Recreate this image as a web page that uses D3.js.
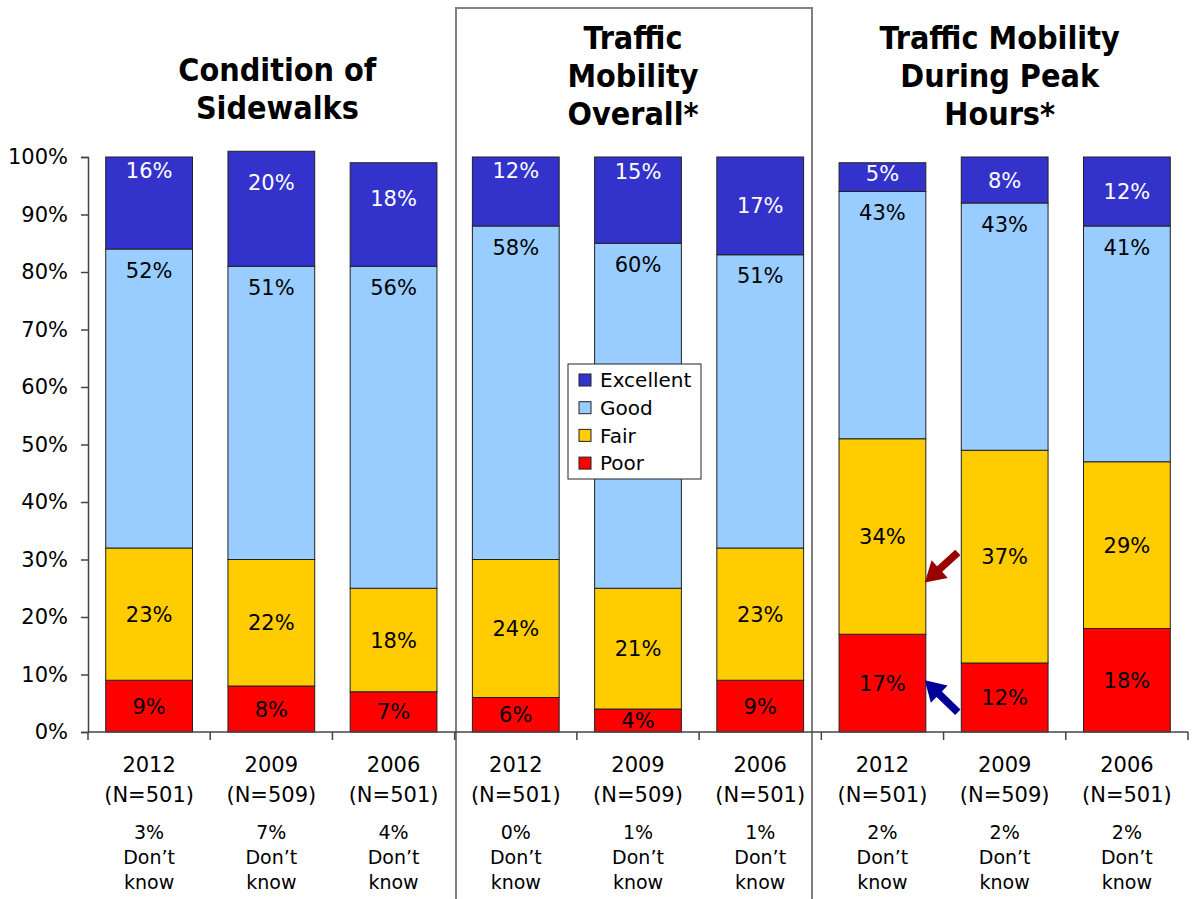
<!DOCTYPE html>
<html>
<head>
<meta charset="utf-8">
<script src="https://cdn.jsdelivr.net/npm/d3@7"></script>
<style>
  html, body { margin: 0; padding: 0; background: #fff; }
  svg { display: block; font-family: "DejaVu Sans", Verdana, sans-serif; }
</style>
</head>
<body>
<svg id="chart" width="1192" height="899"></svg>
<script>
// survey data, one entry per bar
const years = ["2012", "2009", "2006", "2012", "2009", "2006", "2012", "2009", "2006"];
const sampleN = ["501", "509", "501", "501", "509", "501", "501", "509", "501"];
const dontKnow = [3, 7, 4, 0, 1, 1, 2, 2, 2];
const poor = [9, 8, 7, 6, 4, 9, 17, 12, 18];
const fair = [23, 22, 18, 24, 21, 23, 34, 37, 29];
const good = [52, 51, 56, 58, 60, 51, 43, 43, 41];
const excellent = [16, 20, 18, 12, 15, 17, 5, 8, 12];
const panelTitles = [
  ["Condition of", "Sidewalks"],
  ["Traffic", "Mobility", "Overall*"],
  ["Traffic Mobility", "During Peak", "Hours*"]
];
const seriesNames = ["Poor", "Fair", "Good", "Excellent"];
const yTicks = [0, 10, 20, 30, 40, 50, 60, 70, 80, 90, 100];

const colors = { Poor: "#ff0000", Fair: "#ffcc00", Good: "#99ccff", Excellent: "#3333cc" };

const svg = d3.select("#chart");
const margin = { left: 88, right: 4, top: 157, bottom: 167 };
const W = 1192, H = 899;

const x = d3.scaleBand().domain(d3.range(9)).range([margin.left, W - margin.right]).paddingInner(0.29).paddingOuter(0.145);
const y = d3.scaleLinear().domain([0, 100]).range([H - margin.bottom, margin.top]);

// stack the four series
const rows = d3.range(9).map(i => ({ i, Poor: poor[i], Fair: fair[i], Good: good[i], Excellent: excellent[i] }));
const stacked = d3.stack().keys(seriesNames)(rows);

// panel frame around the middle group
svg.append("rect")
  .attr("x", 456).attr("y", 8)
  .attr("width", 356).attr("height", 905)
  .attr("fill", "none").attr("stroke", "#808080").attr("stroke-width", 2);

// bars
const layer = svg.append("g").selectAll("g").data(stacked).join("g")
  .attr("fill", d => colors[d.key]);
layer.selectAll("rect").data(d => d).join("rect")
  .attr("x", (d, i) => x(i))
  .attr("width", x.bandwidth())
  .attr("y", d => y(d[1]))
  .attr("height", d => y(d[0]) - y(d[1]))
  .attr("stroke", "#222").attr("stroke-width", 1);

// value labels
const exLabelDy = [13, 31, 36, 13, 14, 48, 11, 23, 34];
const labels = svg.append("g").attr("font-size", 21).attr("text-anchor", "middle");
stacked.forEach(s => {
  s.forEach((d, i) => {
    let cy;
    if (s.key === "Poor" || s.key === "Fair") cy = (y(d[0]) + y(d[1])) / 2;
    else if (s.key === "Good") cy = y(d[1]) + 21;
    else cy = y(d[1]) + exLabelDy[i];
    labels.append("text")
      .attr("x", x(i) + x.bandwidth() / 2)
      .attr("y", cy)
      .attr("dy", "0.36em")
      .attr("fill", s.key === "Excellent" ? "#fff" : "#000")
      .text(d.data[s.key] + "%");
  });
});

// y axis
const yAxis = svg.append("g")
  .attr("transform", `translate(${margin.left},0)`)
  .call(d3.axisLeft(y).tickValues(yTicks).tickFormat(d => d + "%").tickSize(7).tickPadding(13));
yAxis.select(".domain").attr("stroke", "#444").attr("stroke-width", 1.5);
yAxis.selectAll(".tick line").attr("stroke", "#444").attr("stroke-width", 1.5);
yAxis.selectAll(".tick text").attr("font-size", 21).attr("fill", "#000")
  .attr("font-family", "DejaVu Sans, sans-serif");

// x axis line with ticks between categories
const xAxisG = svg.append("g");
xAxisG.append("line")
  .attr("x1", margin.left).attr("x2", W - margin.right)
  .attr("y1", y(0)).attr("y2", y(0))
  .attr("stroke", "#444").attr("stroke-width", 1.5);
const step = x.step();
xAxisG.selectAll("line.tk").data(d3.range(10)).join("line")
  .attr("class", "tk")
  .attr("x1", d => margin.left + d * step).attr("x2", d => margin.left + d * step)
  .attr("y1", y(0)).attr("y2", y(0) + 8)
  .attr("stroke", "#444").attr("stroke-width", 1.5);

// category labels
const cat = svg.append("g").attr("text-anchor", "middle");
d3.range(9).forEach(i => {
  const cx = x(i) + x.bandwidth() / 2;
  cat.append("text").attr("x", cx).attr("y", 772).attr("font-size", 21).text(years[i]);
  cat.append("text").attr("x", cx).attr("y", 802).attr("font-size", 21).text("(N=" + sampleN[i] + ")");
  cat.append("text").attr("x", cx).attr("y", 839).attr("font-size", 19).text(dontKnow[i] + "%");
  cat.append("text").attr("x", cx).attr("y", 864).attr("font-size", 19).text("Don\u2019t");
  cat.append("text").attr("x", cx).attr("y", 889).attr("font-size", 19).text("know");
});

// panel titles
const titleG = svg.append("g").attr("text-anchor", "middle")
  .attr("font-family", "DejaVu Sans Condensed, DejaVu Sans, sans-serif")
  .attr("font-weight", "bold").attr("font-size", 32);
panelTitles.forEach((lines, p) => {
  const cx = (x(p * 3) + x(p * 3 + 2) + x.bandwidth()) / 2 + (p === 0 ? 6 : -5);
  const base = lines.length === 2 ? 81 : 49;
  lines.forEach((t, k) => {
    titleG.append("text").attr("x", cx).attr("y", base + k * 38).text(t);
  });
});

// legend
const legend = svg.append("g").attr("transform", "translate(568,364)");
legend.append("rect").attr("width", 133).attr("height", 115)
  .attr("fill", "#fff").attr("stroke", "#222").attr("stroke-width", 1);
seriesNames.slice().reverse().forEach((k, j) => {
  const g = legend.append("g").attr("transform", `translate(11,${16 + j * 27.7})`);
  g.append("rect").attr("y", -6).attr("width", 12).attr("height", 12)
    .attr("fill", colors[k]).attr("stroke", "#222");
  g.append("text").attr("x", 21).attr("dy", "0.36em").attr("font-size", 20).text(k);
});

// annotation arrows on the 2012 peak-hours bar
function arrow(tipX, tipY, dx, dy, color) {
  const len = Math.hypot(dx, dy);
  const ang = Math.atan2(dy, dx) * 180 / Math.PI;
  const hl = 20, hw = 12, sw = 3.8;
  const pts = [[0, 0], [-hl, -hw], [-hl, -sw], [-len, -sw], [-len, sw], [-hl, sw], [-hl, hw]];
  svg.append("polygon")
    .attr("points", pts.map(p => p.join(",")).join(" "))
    .attr("transform", `translate(${tipX},${tipY}) rotate(${ang})`)
    .attr("fill", color);
}
const barRight = x(6) + x.bandwidth();
arrow(barRight - 1, y(26), -33, 30, "#990000");
arrow(barRight - 1, y(9), -33, -32, "#000099");
</script>
</body>
</html>
